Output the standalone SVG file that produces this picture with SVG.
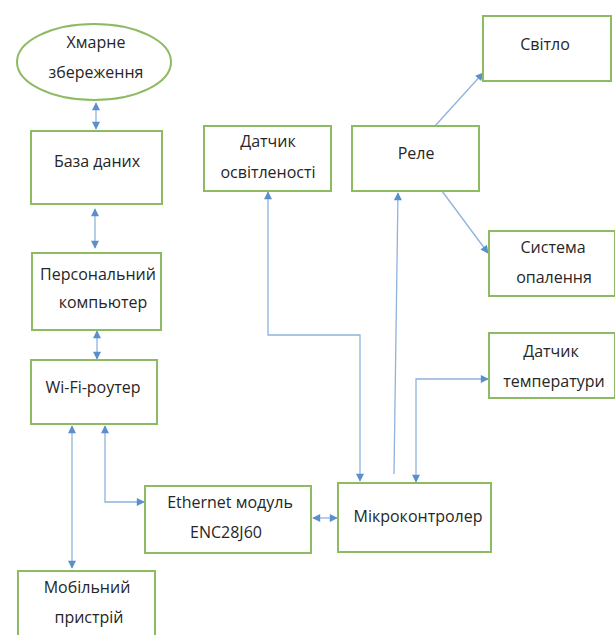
<svg xmlns="http://www.w3.org/2000/svg" width="615" height="635" viewBox="0 0 615 635">
<style>
.box{fill:#fff;stroke:#8dbb62;stroke-width:2}
.t{font-family:"Open Sans","Noto Sans","DejaVu Sans",sans-serif;font-size:16px;fill:#262626;text-anchor:middle}
.c{fill:none;stroke:#8fb3dc;stroke-width:1.3}
</style>
<defs>
<marker id="ah" viewBox="0 0 10 10" refX="9" refY="5" markerWidth="9" markerHeight="8" markerUnits="userSpaceOnUse" orient="auto-start-reverse">
<path d="M0,0 L10,5 L0,10 z" fill="#5b8fcc"/>
</marker>
</defs>
<rect width="615" height="635" fill="#fff"/>
<g id="connectors">
<line class="c" x1="96" y1="103" x2="96" y2="129" marker-start="url(#ah)" marker-end="url(#ah)"/>
<line class="c" x1="95" y1="209" x2="95" y2="248" marker-start="url(#ah)" marker-end="url(#ah)"/>
<line class="c" x1="97" y1="331" x2="97" y2="359" marker-start="url(#ah)" marker-end="url(#ah)"/>
<line class="c" x1="72" y1="426" x2="72" y2="568" marker-start="url(#ah)" marker-end="url(#ah)"/>
<path class="c" d="M105,426 V502 H144" marker-start="url(#ah)" marker-end="url(#ah)"/>
<line class="c" x1="313" y1="518" x2="337" y2="518" marker-start="url(#ah)" marker-end="url(#ah)"/>
<path class="c" d="M268,192 V335 H360 V481" marker-start="url(#ah)" marker-end="url(#ah)"/>
<line class="c" x1="394" y1="474" x2="398" y2="193" marker-end="url(#ah)"/>
<line class="c" x1="435" y1="126" x2="483" y2="73" marker-end="url(#ah)"/>
<line class="c" x1="442" y1="191" x2="488" y2="253" marker-end="url(#ah)"/>
<path class="c" d="M416,482 V379 H488" marker-start="url(#ah)" marker-end="url(#ah)"/>
</g>
<g id="cloud">
<ellipse class="box" cx="94" cy="62" rx="77" ry="38"/>
<text class="t" x="96" y="48">Хмарне</text>
<text class="t" x="96" y="78">збереження</text>
</g>
<g id="db">
<rect class="box" x="31" y="131" width="131" height="73"/>
<text class="t" x="97" y="167">База даних</text>
</g>
<g id="pc">
<rect class="box" x="32" y="253" width="129" height="77"/>
<text class="t" x="98" y="280">Персональний</text>
<text class="t" x="103" y="308">компьютер</text>
</g>
<g id="wifi">
<rect class="box" x="31" y="360" width="126" height="64"/>
<text class="t" x="93" y="393">Wi-Fi-роутер</text>
</g>
<g id="mobile">
<rect class="box" x="18" y="571" width="137" height="70"/>
<text class="t" x="87" y="593">Мобільний</text>
<text class="t" x="89" y="623">пристрій</text>
</g>
<g id="ethernet">
<rect class="box" x="145" y="486" width="166" height="67"/>
<text class="t" x="230" y="508">Ethernet модуль</text>
<text class="t" x="226" y="538">ENC28J60</text>
</g>
<g id="mcu">
<rect class="box" x="338" y="483" width="153" height="69"/>
<text class="t" x="418" y="522">Мікроконтролер</text>
</g>
<g id="light-sensor">
<rect class="box" x="204" y="126" width="127" height="65"/>
<text class="t" x="268" y="147">Датчик</text>
<text class="t" x="268" y="178">освітленості</text>
</g>
<g id="relay">
<rect class="box" x="352" y="126" width="127" height="65"/>
<text class="t" x="416" y="159">Реле</text>
</g>
<g id="light">
<rect class="box" x="483" y="16" width="128" height="65"/>
<text class="t" x="545" y="50">Світло</text>
</g>
<g id="heating">
<rect class="box" x="489" y="231" width="126" height="65"/>
<text class="t" x="553" y="253">Система</text>
<text class="t" x="554" y="283">опалення</text>
</g>
<g id="temp-sensor">
<rect class="box" x="489" y="333" width="126" height="65"/>
<text class="t" x="551" y="357">Датчик</text>
<text class="t" x="554" y="387">температури</text>
</g>
</svg>
